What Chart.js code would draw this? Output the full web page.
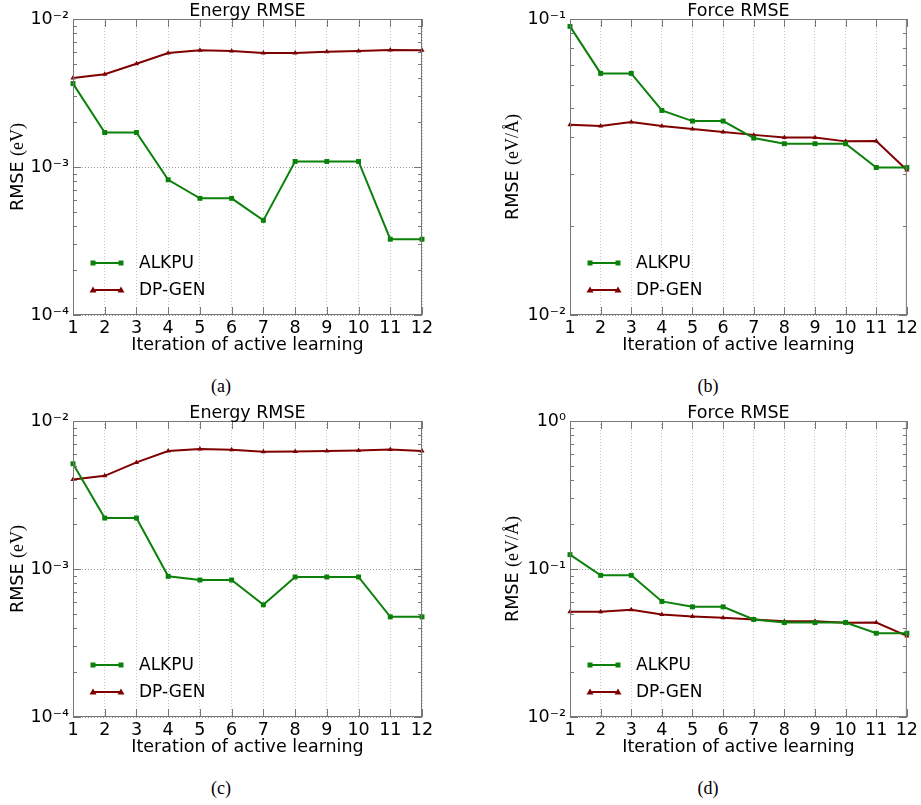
<!DOCTYPE html>
<html>
<head>
<meta charset="utf-8">
<script src="https://cdn.jsdelivr.net/npm/chart.js@4.4.0/dist/chart.umd.min.js"></script>
<style>
    body { margin: 0; background: #fff; width: 921px; height: 805px; position: relative; overflow: hidden; }
    canvas { position: absolute; }
    .cap { position: absolute; width: 60px; text-align: center; font-family: 'Liberation Serif', serif; font-size: 18px; line-height: 20px; color: #000; }
</style>
</head>
<body>
<canvas id="chartA" width="460" height="360" style="left:0;top:0"></canvas>
<canvas id="chartB" width="461" height="360" style="left:460px;top:0"></canvas>
<canvas id="chartC" width="460" height="360" style="left:0;top:402px"></canvas>
<canvas id="chartD" width="461" height="360" style="left:460px;top:402px"></canvas>
<div class="cap" style="left:191px;top:376px">(a)</div>
<div class="cap" style="left:678px;top:376px">(b)</div>
<div class="cap" style="left:191px;top:778px">(c)</div>
<div class="cap" style="left:678px;top:778px">(d)</div>
<script>
// iterasyonlar
const iterations = ['1', '2', '3', '4', '5', '6', '7', '8', '9', '10', '11', '12'];

// (a) Energy RMSE
const energyAlkpuA = [0.00366, 0.00171, 0.00171, 0.00082, 0.000614, 0.000614, 0.000436, 0.00109, 0.00109, 0.00109, 0.000325, 0.000325];
const energyDpgenA = [0.00399, 0.00423, 0.00499, 0.00589, 0.00614, 0.00608, 0.00589, 0.00589, 0.00601, 0.00608, 0.00617, 0.00614];

// (b) Force RMSE
const forceAlkpuB = [0.0944, 0.0655, 0.0655, 0.0491, 0.0452, 0.0452, 0.0396, 0.0379, 0.0379, 0.0379, 0.0315, 0.0315];
const forceDpgenB = [0.0439, 0.0435, 0.0449, 0.0435, 0.0425, 0.0415, 0.0406, 0.0398, 0.0398, 0.0386, 0.0387, 0.0309];

// (c) Energy RMSE
const energyAlkpuC = [0.00514, 0.00221, 0.00221, 0.000892, 0.000842, 0.000842, 0.000573, 0.000883, 0.000883, 0.000883, 0.000475, 0.000475];
const energyDpgenC = [0.00403, 0.00426, 0.00525, 0.00627, 0.00646, 0.0064, 0.0062, 0.00623, 0.00627, 0.00633, 0.00643, 0.00627];

// (d) Force RMSE
const forceAlkpuD = [0.125, 0.0906, 0.0906, 0.0604, 0.0555, 0.0555, 0.0456, 0.0435, 0.0435, 0.0435, 0.0368, 0.0368];
const forceDpgenD = [0.0514, 0.0514, 0.053, 0.0493, 0.0478, 0.0468, 0.0456, 0.0444, 0.0444, 0.0433, 0.0435, 0.0353];

// eksen aralıkları
const energyRange = [1e-4, 1e-2];
const forceRangeB = [1e-2, 1e-1];
const forceRangeD = [1e-2, 1];

const GREEN = '#0b800b';
const RED = '#7f0000';
const FONT = 'DejaVu Sans';
const SUP = { '-': '⁻', '0': '⁰', '1': '¹', '2': '²', '3': '³', '4': '⁴', '5': '⁵', '6': '⁶', '7': '⁷', '8': '⁸', '9': '⁹' };

// sadece 10'un kuvvetleri için etiket
function powLabel(v) {
    const l = Math.log10(v);
    const e = Math.round(l);
    if (Math.abs(l - e) > 1e-6) return '';
    return '10' + String(e).split('').map(c => SUP[c]).join('');
}

// çerçeve ve içe dönük tick'ler
const framePlugin = {
    id: 'frame',
    afterDatasetsDraw(chart) {
        const { ctx, chartArea: a, scales: { x, y } } = chart;
        ctx.save();
        ctx.strokeStyle = '#777';
        ctx.lineWidth = 1;
        ctx.strokeRect(a.left + 0.5, a.top + 0.5, a.width - 1, a.height - 1);
        ctx.beginPath();
        const lo = Math.round(Math.log10(y.min));
        const hi = Math.round(Math.log10(y.max));
        for (let e = lo; e <= hi; e++) {
            for (let k = 1; k <= 9; k++) {
                const v = k * Math.pow(10, e);
                if (v > y.max * 1.0001) break;
                const py = Math.round(y.getPixelForValue(v)) + 0.5;
                const len = k === 1 ? 8 : 4;
                ctx.moveTo(a.left, py); ctx.lineTo(a.left + len, py);
                ctx.moveTo(a.right, py); ctx.lineTo(a.right - len, py);
            }
        }
        x.ticks.forEach((t, i) => {
            const px = Math.round(x.getPixelForTick(i)) + 0.5;
            ctx.moveTo(px, a.top); ctx.lineTo(px, a.top + 8);
            ctx.moveTo(px, a.bottom); ctx.lineTo(px, a.bottom - 8);
        });
        ctx.stroke();
        ctx.restore();
    }
};

function drawMarker(ctx, style, x, y, color) {
    ctx.fillStyle = color;
    if (style === 'rect') {
        ctx.fillRect(x - 2.5, y - 2.5, 5, 5);
    } else {
        ctx.beginPath();
        ctx.moveTo(x, y - 3.5);
        ctx.lineTo(x + 3.5, y + 2.5);
        ctx.lineTo(x - 3.5, y + 2.5);
        ctx.closePath();
        ctx.fill();
    }
}

// grafiğin içinde sol altta lejant + üstte başlık
const legendPlugin = {
    id: 'insideLegend',
    afterDraw(chart, args, opts) {
        const { ctx, chartArea: a } = chart;
        const rows = [a.bottom - 52, a.bottom - 25];
        ctx.save();
        chart.data.datasets.forEach((ds, i) => {
            const y = rows[i];
            const x0 = a.left + 20, x1 = a.left + 48;
            ctx.strokeStyle = ds.borderColor;
            ctx.lineWidth = 2;
            ctx.beginPath();
            ctx.moveTo(x0, y); ctx.lineTo(x1, y);
            ctx.stroke();
            drawMarker(ctx, ds.pointStyle, x0, y, ds.borderColor);
            drawMarker(ctx, ds.pointStyle, x1, y, ds.borderColor);
            ctx.fillStyle = '#000';
            ctx.font = '17px "' + FONT + '"';
            ctx.textBaseline = 'middle';
            ctx.fillText(ds.label, a.left + 66, y + 1);
        });
        // başlık, çizim alanının ortasında
        ctx.font = '17.5px "' + FONT + '"';
        ctx.textAlign = 'center';
        ctx.textBaseline = 'middle';
        ctx.fillStyle = '#000';
        ctx.fillText(opts.title, (a.left + a.right) / 2, 11);
        ctx.restore();
    }
};

// y ekseni başlığı: "RMSE" sans + birim serif
const yTitlePlugin = {
    id: 'yTitle',
    afterDraw(chart, args, opts) {
        const { ctx, chartArea: a } = chart;
        const part1 = 'RMSE ';
        const part2 = opts.unit;
        ctx.save();
        ctx.font = '17.5px "' + FONT + '"';
        const w1 = ctx.measureText(part1).width;
        ctx.font = '18px "Liberation Serif"';
        const w2 = ctx.measureText(part2).width;
        ctx.translate(opts.x, (a.top + a.bottom) / 2);
        ctx.rotate(-Math.PI / 2);
        ctx.textBaseline = 'middle';
        ctx.fillStyle = '#000';
        const start = -(w1 + w2) / 2;
        ctx.font = '17.5px "' + FONT + '"';
        ctx.fillText(part1, start, 0);
        ctx.font = '18px "Liberation Serif"';
        ctx.fillText(part2, start + w1, 0);
        ctx.restore();
    }
};

function makeChart(id, title, alkpu, dpgen, range, unit, yTitleX, yAxisWidth, padRight) {
    return new Chart(document.getElementById(id), {
        type: 'line',
        data: {
            labels: iterations,
            datasets: [{
                label: 'ALKPU',
                data: alkpu,
                borderColor: GREEN,
                backgroundColor: GREEN,
                borderWidth: 2,
                pointStyle: 'rect',
                pointRadius: 3.5,
                pointBorderWidth: 0,
                clip: false
            }, {
                label: 'DP-GEN',
                data: dpgen,
                borderColor: RED,
                backgroundColor: RED,
                borderWidth: 2,
                pointStyle: 'triangle',
                pointRadius: 3,
                pointBorderWidth: 0,
                clip: false
            }]
        },
        options: {
            responsive: false,
            animation: false,
            layout: { padding: { left: 0, right: padRight, top: 19, bottom: 0 } },
            plugins: {
                legend: { display: false },
                tooltip: { enabled: false },
                title: { display: false },
                insideLegend: { title: title },
                yTitle: { unit: unit, x: yTitleX }
            },
            scales: {
                x: {
                    offset: false,
                    grid: { color: '#c4c4c4', drawTicks: false },
                    border: { display: false, dash: [1, 2] },
                    ticks: { color: '#000', font: { family: FONT, size: 17.5 }, padding: 3, maxRotation: 0, autoSkip: false },
                    title: {
                        display: true,
                        text: 'Iteration of active learning',
                        color: '#000',
                        font: { family: FONT, size: 17.5 },
                        padding: { top: 0, bottom: 4 }
                    },
                    afterFit: s => { s.height = 45; }
                },
                y: {
                    type: 'logarithmic',
                    min: range[0],
                    max: range[1],
                    grid: {
                        color: c => (c.tick && powLabel(c.tick.value)) ? '#999' : 'rgba(0,0,0,0)',
                        drawTicks: false
                    },
                    border: { display: false, dash: [1, 2] },
                    ticks: {
                        autoSkip: false,
                        color: '#000',
                        font: { family: FONT, size: 17.5 },
                        padding: 4,
                        callback: v => powLabel(v)
                    },
                    afterFit: s => { s.width = yAxisWidth; }
                }
            }
        },
        plugins: [framePlugin, legendPlugin, yTitlePlugin]
    });
}

makeChart('chartA', 'Energy RMSE', energyAlkpuA, energyDpgenA, energyRange, '(eV)', 18, 73, 38);
makeChart('chartB', 'Force RMSE', forceAlkpuB, forceDpgenB, forceRangeB, '(eV/Å)', 53, 110, 13);
makeChart('chartC', 'Energy RMSE', energyAlkpuC, energyDpgenC, energyRange, '(eV)', 18, 73, 38);
makeChart('chartD', 'Force RMSE', forceAlkpuD, forceDpgenD, forceRangeD, '(eV/Å)', 53, 110, 13);
</script>
</body>
</html>
